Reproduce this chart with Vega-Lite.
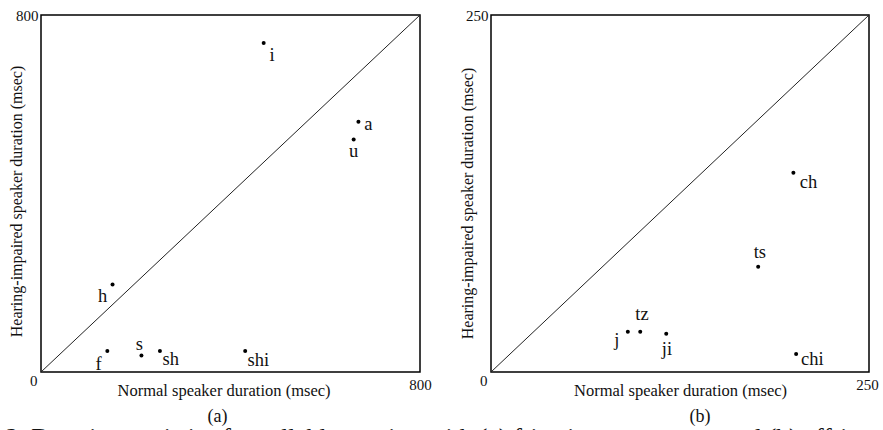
{
  "$schema": "https://vega.github.io/schema/vega-lite/v6.json",
  "padding": {"left": 5, "top": 7, "right": 5, "bottom": 5},
  "background": "white",
  "bounds": "flush",
  "spacing": 71,
  "config": {
    "font": "Liberation Serif",
    "view": {"stroke": "black", "strokeWidth": 1.5},
    "axis": {"labelColor": "#111", "titleColor": "#111", "labelFontSize": 15, "titleFontSize": 16, "titleFontWeight": "normal", "grid": false, "ticks": false, "domain": false},
    "title": {"color": "#111", "fontWeight": "normal"}
  },
  "title": {"text": "2. Duration statistics for syllable starting with (a) fricative consonants and (b) affricate consonants", "orient": "bottom", "anchor": "start", "fontSize": 25.5, "dx": -2, "offset": 0, "color": "#111"},
  "datasets": {
    "fric": [
      {"label": "i", "normal": 470, "impaired": 737},
      {"label": "a", "normal": 670, "impaired": 561},
      {"label": "u", "normal": 660, "impaired": 521},
      {"label": "h", "normal": 151, "impaired": 196},
      {"label": "f", "normal": 140, "impaired": 47},
      {"label": "s", "normal": 212, "impaired": 37},
      {"label": "sh", "normal": 251, "impaired": 47},
      {"label": "shi", "normal": 431, "impaired": 47}
    ],
    "affr": [
      {"label": "ch", "normal": 200, "impaired": 139.5},
      {"label": "ts", "normal": 176.7, "impaired": 73.7},
      {"label": "j", "normal": 90.5, "impaired": 28.2},
      {"label": "tz", "normal": 98.7, "impaired": 28.2},
      {"label": "ji", "normal": 115.9, "impaired": 26.8},
      {"label": "chi", "normal": 201.8, "impaired": 12.6}
    ],
    "diagA": [{"normal": 0, "impaired": 0}, {"normal": 800, "impaired": 800}],
    "diagB": [{"normal": 0, "impaired": 0}, {"normal": 250, "impaired": 250}]
  },
  "hconcat": [
    {
      "width": 379,
      "height": 357,
      "title": {"text": "(a)", "orient": "bottom", "fontSize": 18, "dx": -13, "offset": 9},
      "encoding": {
        "x": {"field": "normal", "type": "quantitative", "scale": {"domain": [0, 800], "nice": false},
          "axis": {"values": [0, 800], "title": "Normal speaker duration (msec)", "titleFontSize": 16.5, "titleX": 182.5, "titleY": 18, "titleBaseline": "middle", "titleAlign": "center",
            "labelAlign": {"condition": {"test": "datum.value == 0", "value": "right"}, "value": "center"},
            "labelOffset": {"condition": {"test": "datum.value == 0", "value": -4}, "value": 0},
            "labelPadding": {"condition": {"test": "datum.value == 0", "value": 1}, "value": 5}}},
        "y": {"field": "impaired", "type": "quantitative", "scale": {"domain": [0, 800], "nice": false},
          "axis": {"values": [800], "title": "Hearing-impaired speaker duration (msec)", "labelPadding": 3, "titleX": -24.5, "titleY": 186, "titleBaseline": "middle", "titleAlign": "center"}}
      },
      "layer": [
        {"data": {"name": "diagA"}, "mark": {"type": "line", "color": "#222", "strokeWidth": 1}},
        {"data": {"name": "fric"}, "mark": {"type": "circle", "color": "black", "size": 16, "opacity": 1}},
        {"data": {"name": "fric"}, "mark": {"type": "text", "fontSize": 18.5, "color": "#111", "align": "center", "baseline": "alphabetic",
          "dx": {"expr": "{'i':8.4,'a':10,'u':0,'h':-10,'f':-8.7,'s':-2,'sh':10.9,'shi':13.1}[datum.label]"},
          "dy": {"expr": "{'i':18.3,'a':8.7,'u':17.4,'h':17,'f':19,'s':-5.7,'sh':14,'shi':15}[datum.label]"}},
          "encoding": {"text": {"field": "label"}}}
      ]
    },
    {
      "width": 378,
      "height": 357,
      "title": {"text": "(b)", "orient": "bottom", "fontSize": 18, "dx": 20, "offset": 9},
      "encoding": {
        "x": {"field": "normal", "type": "quantitative", "scale": {"domain": [0, 250], "nice": false},
          "axis": {"values": [0, 250], "title": "Normal speaker duration (msec)", "titleFontSize": 16.5, "titleX": 189, "titleY": 18, "titleBaseline": "middle", "titleAlign": "center",
            "labelAlign": {"condition": {"test": "datum.value == 0", "value": "right"}, "value": "center"},
            "labelOffset": {"condition": {"test": "datum.value == 0", "value": -4}, "value": -2},
            "labelPadding": {"condition": {"test": "datum.value == 0", "value": 1}, "value": 5}}},
        "y": {"field": "impaired", "type": "quantitative", "scale": {"domain": [0, 250], "nice": false},
          "axis": {"values": [250], "title": "Hearing-impaired speaker duration (msec)", "labelPadding": 3, "titleX": -23.2, "titleY": 188, "titleBaseline": "middle", "titleAlign": "center"}}
      },
      "layer": [
        {"data": {"name": "diagB"}, "mark": {"type": "line", "color": "#222", "strokeWidth": 1}},
        {"data": {"name": "affr"}, "mark": {"type": "circle", "color": "black", "size": 16, "opacity": 1}},
        {"data": {"name": "affr"}, "mark": {"type": "text", "fontSize": 18.5, "color": "#111", "align": "center", "baseline": "alphabetic",
          "dx": {"expr": "{'ch':15,'ts':1.7,'j':-11,'tz':1.7,'ji':0.7,'chi':16.3}[datum.label]"},
          "dy": {"expr": "{'ch':15.6,'ts':-8.4,'j':14.5,'tz':-11.7,'ji':21,'chi':11}[datum.label]"}},
          "encoding": {"text": {"field": "label"}}}
      ]
    }
  ]
}
